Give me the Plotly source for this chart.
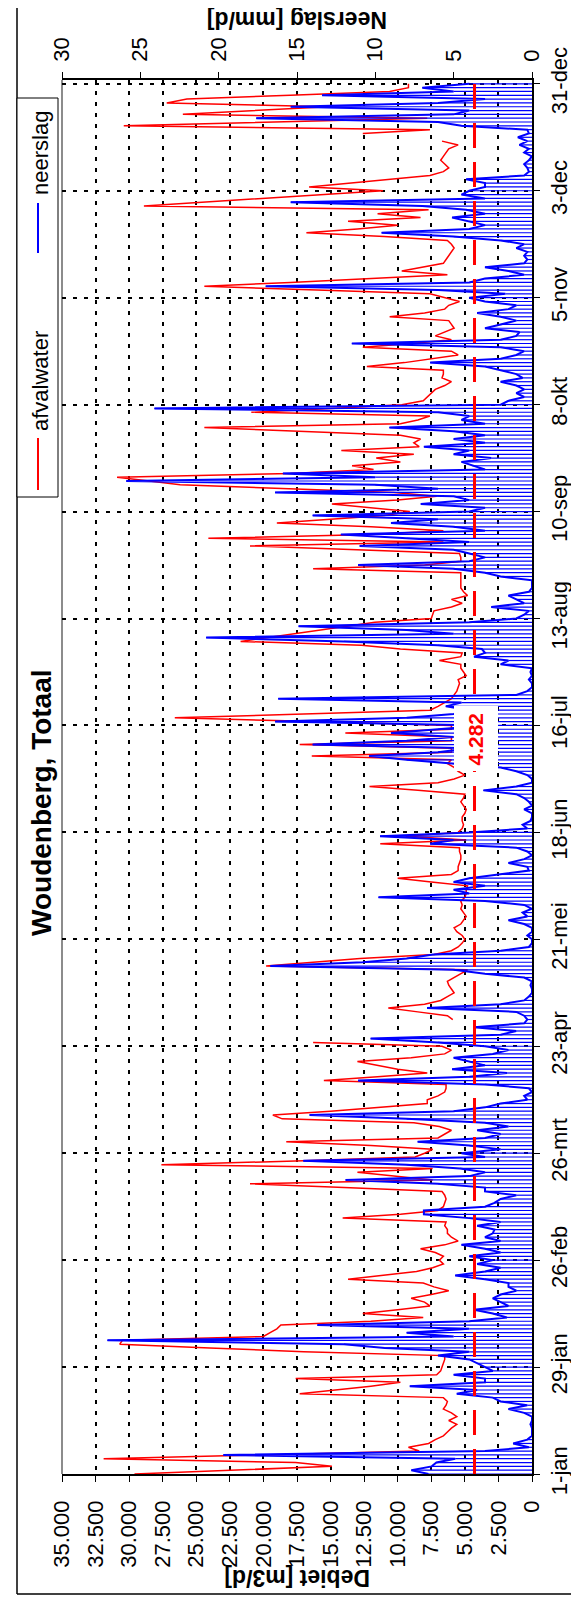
import plotly.graph_objects as go
import pandas as pd

NaN = None

# ---------------- data ----------------
dates = pd.date_range("2009-01-01", periods=365, freq="D")

afvalwater = [
    29600, 22000, 14900, 17600, 31900, 20000, 8400, 9200, 7700, 7200,
    6600, 6300, 6000, 5600, 6200, 5600, 6000, 6600, 6400, 6300,
    6600, 17300, 14500, 12000, 9800, 17600, 7100, 6800, 6700, 6600,
    6500, 6500, 17000, 24000, 30700, 30500, 20000, 19500, 19000, 18700,
    12000, 8100, 12600, 10000, 7600, 8000, 9000, 7500, 6200, 7300,
    8100, 13700, 11000, 8600, 7400, 6600, 6900, 6600, 7200, 8300,
    6500, 5500, 6000, 6300, 6300, 6500, 6400, 14100, 9800, 7000,
    6600, 6500, 6400, 6500, 6700, 14000, 21000, 7400, 10000, 13000,
    7400, 27600, 17000, 8700, 8000, 7400, 12000, 18300, 7000, 6500,
    6000, 6900, 8800, 18600, 19300, 15000, 11500, 7800, 7800, 7000,
    6500, 6400, 6400, 15500, 11500, 7800, 10000, 11500, 13000, 9000,
    6500, 6000, 6700, 16300, NaN, NaN, NaN, NaN, NaN, 5900,
    6300, 8500, 10700, 8000, 6800, 6300, 5800, 6000, 6200, 6300,
    5800, 5200, 4800, 19800, 16000, 12800, 7300, 6000, 5500, 5200,
    5000, 5200, 5600, 5800, 5300, 5100, 4900, 5100, 5300, 5200,
    5300, 5000, 4900, 4900, 4800, 7500, 10000, 6000, 5500, 5500,
    5400, 5300, 5300, 5400, 5400, 11300, 4900, 9400, 5500, 5200,
    5100, 5200, 5200, 5000, 4900, 5100, 5300, 5100, 5000, 8500,
    12100, 7000, 5800, 5000, 5500, 5800, 6300, 6000, 16400, 6000,
    6000, 17300, 6000, 6000, 13900, 6000, 6000, 16000, 26600, 17000,
    7600, 7000, 6500, 6000, 5800, 5600, 5500, 5400, 5500, 4900,
    5100, 5300, 5300, 6900, 5300, 5200, 9800, 12700, 21700, 19700,
    17700, 15700, 13700, 11700, 7500, 7400, 7300, 6000, 5200, 6000,
    4800, 5100, 5300, 5300, 5300, 5300, 5300, 16300, 8000, 5300,
    5300, 5400, 13000, 21000, 6600, 24100, 12000, 6600, 12000, 19000,
    15000, 11000, 9100, 12000, 14900, 10000, 7100, 10300, 18000, 26200,
    28500, 30900, 18000, 11800, 13400, 9800, 11600, 8800, 14200, 8400,
    8800, 8300, 9800, 17000, 24400, 9800, 8500, 7600, 20900, 15000,
    9700, 8100, 7800, 7500, 7200, 6500, 6000, 6700, 6600, 6600,
    12300, 9500, 7600, 5500, 6000, 12600, 9000, 6000, 7200, 6500,
    5800, 6000, 6200, 10600, 8000, 6500, 6200, 5400, 6500, 7600,
    16000, 24400, 18000, 12000, 6300, 9700, 8000, 6600, 6400, 6200,
    6000, 5800, 6000, 6300, 11000, 16800, 13000, 10000, 13700, 8300,
    11500, 7700, 28900, 24500, 20000, 15500, 11100, 16600, 13600, 10600,
    7600, 6600, 6200, 6500, 6800, 6600, 6400, 6200, 5500, 6700,
    NaN, 12600, 7600, 30400, 19000, 7800, 26000, 20500, 15200, 27200,
    25700, 18000, 10600, 9200, 9200,
]

neerslag = [
    6.6, 7.7, 6.4, 6.1, 4.9, 19.7, 3.0, 0.2, 1.2, 0.3,
    0.0, 0.0, 0.0, 0.1, 0.0, 0.0, 0.5, 1.5, 0.3, 2.0,
    2.5, 4.8, 3.5, 7.8, 3.0, 3.0, 5.0, 2.5, 3.0, 3.5,
    4.0, 6.0, 4.0, 9.4, 12.0, 27.1, 5.0, 8.0, 4.0, 13.7,
    4.0, 1.6, 2.5, 3.7, 1.5, 2.0, 2.5, 2.0, 1.0, 1.5,
    1.5, 3.0, 4.9, 3.0, 2.0, 3.5, 2.5, 4.0, 2.0, 3.0,
    4.5, 2.0, 3.0, 2.5, 2.4, 3.5, 2.0, 4.0, 6.9, 6.9,
    3.0, 2.4, 2.0, 1.0, 3.0, 3.0, 6.0, 11.9, 4.0, 3.0,
    4.6, 8.0, 14.6, 3.0, 4.5, 2.0, 4.0, 7.3, 3.0, 2.0,
    3.5, 1.5, 3.0, 8.0, 14.2, 5.0, 3.0, 2.0, 0.3, 0.5,
    0.0, 0.2, 3.0, 11.1, 4.0, 1.6, 5.1, 3.0, 4.0, 5.0,
    2.5, 1.5, 3.0, 6.0, 10.3, 2.0, 1.0, 3.7, 0.5, 0.3,
    0.5, 1.0, 6.7, 2.0, 0.5, 0.2, 0.0, 0.0, 0.1, 0.0,
    0.5, 3.0, 5.0, 16.7, 10.8, 8.0, 6.3, 2.0, 0.2, 0.0,
    0.0, 0.3, 0.0, 0.0, 0.5, 1.5, 0.3, 0.6, 0.0, 0.5,
    3.0, 9.8, 4.0, 5.0, 3.0, 5.0, 4.0, 2.0, 0.2, 0.3,
    1.5, 0.5, 0.0, 0.3, 1.0, 6.5, 5.0, 9.7, 4.0, 0.3,
    0.6, 0.1, 0.0, 0.0, 0.5, 0.0, 0.2, 0.5, 1.0, 3.1,
    1.0, 0.0, 0.0, 0.3, 1.0, 2.0, 5.0, 8.0, 10.4, 6.0,
    4.0, 14.0, 8.0, 5.0, 9.0, 6.0, 3.0, 16.4, 8.0, 5.0,
    4.0, 5.5, 4.5, 16.2, 1.0, 0.3, 0.0, 0.0, 0.2, 0.0,
    0.1, 0.0, 2.0, 1.5, 3.7, 3.0, 3.2, 6.0, 12.0, 20.8,
    5.0, 8.0, 14.9, 4.0, 1.0, 0.5, 0.2, 2.6, 0.5, 1.0,
    1.5, 0.2, 0.0, 0.0, 0.0, 2.0, 3.0, 5.0, 11.1, 4.0,
    3.0, 4.0, 5.0, 11.0, 4.0, 8.0, 12.2, 3.0, 5.0, 9.0,
    6.0, 14.0, 4.0, 3.0, 7.1, 4.0, 5.0, 16.4, 6.0, 10.0,
    25.9, 10.0, 15.9, 3.0, 3.8, 4.5, 2.6, 5.0, 4.0, 6.9,
    3.0, 5.0, 3.0, 5.0, 9.1, 3.0, 4.5, 4.0, 6.0, 24.1,
    2.0, 1.5, 0.5, 1.0, 0.5, 1.0, 2.0, 0.6, 1.0, 2.0,
    3.0, 6.5, 2.0, 1.0, 0.5, 2.0, 11.5, 2.0, 1.0, 0.8,
    3.0, 2.0, 1.0, 2.0, 3.5, 1.5, 1.0, 3.0, 4.0, 1.7,
    6.0, 17.0, 4.0, 3.0, 0.5, 1.5, 3.0, 0.5, 0.3, 0.5,
    0.3, 1.0, 0.5, 2.0, 5.0, 9.6, 4.0, 3.0, 4.0, 5.1,
    3.0, 4.2, 7.0, 15.4, 3.0, 4.5, 4.0, 3.0, 3.0, 4.2,
    0.5, 0.2, 0.3, 0.5, 0.2, 0.0, 0.5, 0.2, 0.8, 0.3,
    0.9, 0.2, 0.3, 4.5, 6.0, 17.6, 5.0, 4.0, 15.4, 6.0,
    3.0, 13.4, 5.0, 7.0, 4.0,
]

gemiddelde = 4282

debiet_ticks = [0, 2500, 5000, 7500, 10000, 12500, 15000, 17500,
                20000, 22500, 25000, 27500, 30000, 32500, 35000]
debiet_ticktext = ["0", "2.500", "5.000", "7.500", "10.000", "12.500", "15.000",
                   "17.500", "20.000", "22.500", "25.000", "27.500", "30.000",
                   "32.500", "35.000"]
neerslag_ticks = [0, 5, 10, 15, 20, 25, 30]
date_ticktext = ["1-jan", "29-jan", "26-feb", "26-mrt", "23-apr", "21-mei", "18-jun",
                 "16-jul", "13-aug", "10-sep", "8-okt", "5-nov", "3-dec", "31-dec"]
date_tickvals = list(dates[::28])

# ---------------- geometry (pixels) ----------------
W, H = 579, 1597
L, R, T, B = 54, 524, 72, 1466
pw, ph = R - L, B - T


def px(x):
    return (x - L) / pw


def py(y):
    return (B - y) / ph


FONT = "Arial, Liberation Sans, sans-serif"

# drop lines of the neerslag series (from each point to the category axis)
drop_x, drop_y = [], []
for d, n in zip(dates, neerslag):
    drop_x += [n, 0, None]
    drop_y += [d, d, None]

fig = go.Figure()
fig.add_trace(go.Scatter(
    x=afvalwater, y=dates, mode="lines", name="afvalwater",
    line=dict(color="#FF0000", width=1.5), connectgaps=False,
    xaxis="x", yaxis="y", hoverinfo="skip"))
fig.add_trace(go.Scatter(
    x=drop_x, y=drop_y, mode="lines", name="dropline",
    line=dict(color="#0000FF", width=1.2), connectgaps=False,
    xaxis="x2", yaxis="y", hoverinfo="skip"))
fig.add_trace(go.Scatter(
    x=neerslag, y=dates, mode="lines", name="neerslag",
    line=dict(color="#0000FF", width=2),
    xaxis="x2", yaxis="y", hoverinfo="skip"))

grid_dash = "4px,7px"

fig.update_layout(
    width=W, height=H,
    margin=dict(l=L, r=W - R, t=T, b=H - B, autoexpand=False),
    paper_bgcolor="white", plot_bgcolor="white",
    showlegend=False,
    font=dict(family=FONT, color="black", size=22),
    xaxis=dict(
        range=[35000, 0], tickvals=debiet_ticks, ticktext=debiet_ticktext,
        tickangle=-90, ticks="outside", ticklen=6, tickcolor="black", tickwidth=1,
        showline=True, linecolor="black", linewidth=1.5,
        showgrid=True, gridcolor="black", gridwidth=2, griddash=grid_dash,
        zeroline=False, tickfont=dict(size=22), automargin=False,
        ticklabelstandoff=10,
    ),
    xaxis2=dict(
        overlaying="x", side="top", anchor="y",
        range=[30, 0], tickvals=neerslag_ticks,
        tickangle=-90, ticks="outside", ticklen=6, tickcolor="black", tickwidth=1,
        showline=True, linecolor="black", linewidth=1.5,
        showgrid=False, zeroline=False, tickfont=dict(size=22), automargin=False,
        ticklabelstandoff=6,
    ),
    yaxis=dict(
        type="date", side="right",
        range=[dates[0], dates[0] + pd.Timedelta(days=365)],
        tickvals=date_tickvals, ticktext=date_ticktext,
        tickangle=-90, ticks="outside", ticklen=6, tickcolor="black", tickwidth=1,
        showline=True, linecolor="black", linewidth=1.5,
        showgrid=True, gridcolor="black", gridwidth=2, griddash=grid_dash,
        zeroline=False, tickfont=dict(size=22), automargin=False,
        ticklabelstandoff=1,
    ),
)

shapes = []
# left border of plot area (grey)
shapes.append(dict(type="line", xref="paper", yref="paper", x0=0, x1=0, y0=0, y1=1,
                   line=dict(color="#8c8c8c", width=2), layer="below"))
# average line
shapes.append(dict(type="line", xref="x", yref="paper", x0=gemiddelde, x1=gemiddelde,
                   y0=0, y1=1, line=dict(color="#FF0000", width=3, dash="25px,14px"),
                   layer="above"))
# label box for average
shapes.append(dict(type="rect", xref="paper", yref="paper",
                   x0=px(446), x1=px(490), y0=py(763), y1=py(698),
                   fillcolor="white", line=dict(width=0), layer="above"))
# outer frame
shapes.append(dict(type="line", xref="paper", yref="paper", x0=px(9), x1=px(9),
                   y0=py(1586), y1=py(0), line=dict(color="black", width=1.5)))
shapes.append(dict(type="line", xref="paper", yref="paper", x0=px(9), x1=px(579),
                   y0=py(1586), y1=py(1586), line=dict(color="black", width=1.5)))
# legend box
shapes.append(dict(type="rect", xref="paper", yref="paper", x0=px(9), x1=px(50),
                   y0=py(489), y1=py(90), line=dict(color="black", width=1),
                   fillcolor="white"))
shapes.append(dict(type="line", xref="paper", yref="paper", x0=px(30), x1=px(30),
                   y0=py(245), y1=py(195), line=dict(color="#0000FF", width=2)))
shapes.append(dict(type="line", xref="paper", yref="paper", x0=px(30), x1=px(30),
                   y0=py(482), y1=py(430), line=dict(color="#FF0000", width=2)))

annotations = [
    dict(text="<b>Woudenberg, Totaal</b>", xref="paper", yref="paper",
         x=px(33), y=py(795), textangle=-90, showarrow=False,
         font=dict(size=28, family=FONT), xanchor="center", yanchor="middle"),
    dict(text="<b>Debiet [m3/d]</b>", xref="paper", yref="paper",
         x=px(289), y=py(1570), textangle=180, showarrow=False,
         font=dict(size=23, family=FONT), xanchor="center", yanchor="middle"),
    dict(text="<b>Neerslag [mm/d]</b>", xref="paper", yref="paper",
         x=px(289), y=py(12), textangle=180, showarrow=False,
         font=dict(size=23, family=FONT), xanchor="center", yanchor="middle"),
    dict(text="neerslag", xref="paper", yref="paper",
         x=px(32), y=py(145), textangle=-90, showarrow=False,
         font=dict(size=22, family=FONT), xanchor="center", yanchor="middle"),
    dict(text="afvalwater", xref="paper", yref="paper",
         x=px(32), y=py(373), textangle=-90, showarrow=False,
         font=dict(size=22, family=FONT), xanchor="center", yanchor="middle"),
    dict(text="<b>4.282</b>", xref="x", yref="paper",
         x=gemiddelde, y=py(731), textangle=-90, showarrow=False,
         font=dict(size=21, family=FONT, color="#FF0000"),
         xanchor="center", yanchor="middle"),
]

fig.update_layout(shapes=shapes, annotations=annotations)

fig.write_html("out.html")
